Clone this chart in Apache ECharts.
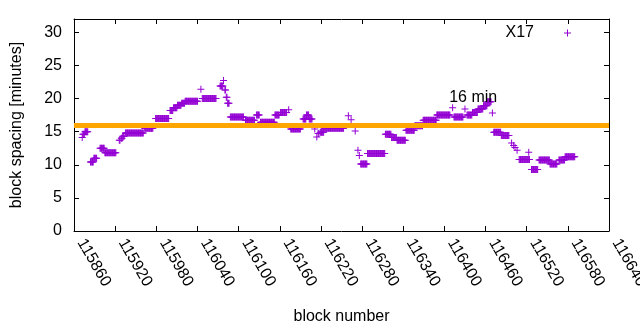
<!DOCTYPE html>
<html>
<head>
<meta charset="utf-8">
<script src="https://cdn.jsdelivr.net/npm/echarts@6/dist/echarts.min.js"></script>
<style>
  html, body { margin: 0; padding: 0; background: #fff; }
  #chart { width: 640px; height: 330px; }
</style>
</head>
<body>
<div id="chart"></div>
<script>
// runs of blocks that share the same spacing value
const runFrom = [
  115872, 115873, 115876, 115884, 115889, 115898, 115905, 115926, 115929, 115931,
  115935, 115963, 115979, 116000, 116005, 116011, 116017, 116022, 116045, 116047,
  116073, 116078, 116080, 116082, 116084, 116088, 116110, 116126, 116132, 116153,
  116161, 116173, 116176, 116194, 116199, 116203, 116211, 116214, 116216, 116219,
  116225, 116260, 116264, 116270, 116274, 116276, 116278, 116288, 116314, 116323,
  116331, 116344, 116357, 116369, 116389, 116412, 116414, 116430, 116433, 116441,
  116449, 116457, 116463, 116470, 116472, 116483, 116498, 116501, 116503, 116506,
  116509, 116523, 116527, 116538, 116554, 116567, 116576
];
const runTo = [
  115872, 115875, 115880, 115888, 115893, 115904, 115921, 115927, 115930, 115933,
  115961, 115975, 115998, 116004, 116010, 116016, 116021, 116040, 116045, 116067,
  116077, 116078, 116081, 116083, 116086, 116107, 116123, 116130, 116152, 116159,
  116170, 116173, 116190, 116198, 116202, 116207, 116211, 116214, 116217, 116224,
  116253, 116260, 116264, 116270, 116274, 116276, 116287, 116313, 116322, 116330,
  116343, 116356, 116368, 116388, 116408, 116412, 116427, 116430, 116440, 116448,
  116456, 116462, 116468, 116470, 116482, 116494, 116498, 116501, 116503, 116506,
  116524, 116523, 116536, 116553, 116564, 116575, 116590
];
const runMinutes = [
  14.1, 14.6, 15.0, 10.4, 11.0, 12.5, 11.8, 13.7, 14.0, 14.3,
  14.8, 15.5, 17.0, 18.2, 18.6, 19.0, 19.3, 19.6, 21.4, 20.0,
  21.9, 22.7, 21.3, 20.2, 19.3, 17.2, 16.7, 17.5, 16.4, 17.5,
  17.9, 18.3, 15.4, 16.9, 17.5, 16.9, 15.4, 14.2, 14.7, 14.9,
  15.5, 17.4, 16.8, 15.1, 12.2, 11.4, 10.1, 11.7, 14.6, 14.1,
  13.7, 15.2, 15.9, 16.7, 17.5, 18.6, 17.2, 18.4, 17.5, 17.9,
  18.4, 18.9, 19.5, 17.8, 14.9, 14.4, 13.3, 12.9, 12.6, 12.2,
  10.8, 11.9, 9.3, 10.7, 10.1, 10.7, 11.2
];

const blockRange = [115860, 116640];
const blockStep = 60;
const minutesRange = [0, 32];
const minutesStep = 5;
const targetMinutes = 16;
const targetText = '16 min';
const targetTextAt = [116407, 20.2];
const seriesName = 'X17';

const points = [];
runFrom.forEach((from, i) => {
  for (let b = from; b <= runTo[i]; b++) points.push([b, runMinutes[i]]);
});

const plus = 'path://M3,0h1v7h-1z M0,3h7v1h-7z';
const font = 'Liberation Sans, Arial, sans-serif';
const black = '#000';

const chart = echarts.init(document.getElementById('chart'), null, { renderer: 'canvas' });

const axisCommon = {
  type: 'value',
  axisLine: { show: true, onZero: false, lineStyle: { color: black, width: 1 } },
  axisTick: { show: true, inside: true, length: 5, lineStyle: { color: black } },
  splitLine: { show: false }
};

chart.setOption({
  animation: false,
  textStyle: { fontFamily: font },
  grid: { left: 74, right: 31, top: 19, bottom: 99, containLabel: false, outerBoundsMode: 'none' },
  legend: {
    data: [{ name: seriesName, icon: plus }],
    right: 69, top: 25,
    align: 'right',
    itemWidth: 7, itemHeight: 7,
    padding: 0,
    textStyle: { fontSize: 16, color: black, fontFamily: font, padding: [0, 25, 0, 0] }
  },
  xAxis: [
    Object.assign({}, axisCommon, {
      position: 'bottom',
      min: blockRange[0], max: blockRange[1], interval: blockStep,
      axisLabel: {
        rotate: -60, fontSize: 16, color: black, fontFamily: font,
        margin: 13, align: 'left', verticalAlign: 'bottom',
        formatter: v => String(v)
      },
      name: 'block number', nameLocation: 'middle', nameGap: 78,
      nameTextStyle: { fontSize: 16, color: black, fontFamily: font }
    }),
    Object.assign({}, axisCommon, {
      position: 'top',
      min: blockRange[0], max: blockRange[1], interval: blockStep,
      axisLabel: { show: false }
    })
  ],
  yAxis: [
    Object.assign({}, axisCommon, {
      position: 'left',
      min: minutesRange[0], max: minutesRange[1], interval: minutesStep,
      axisLabel: { fontSize: 16, color: black, fontFamily: font, margin: 12, showMaxLabel: false },
      name: 'block spacing [minutes]', nameLocation: 'middle', nameGap: 49,
      nameTextStyle: { fontSize: 16, color: black, fontFamily: font }
    }),
    Object.assign({}, axisCommon, {
      position: 'right',
      min: minutesRange[0], max: minutesRange[1], interval: minutesStep,
      axisLabel: { show: false }
    })
  ],
  series: [
    {
      name: seriesName,
      type: 'scatter',
      data: points,
      symbol: plus,
      symbolSize: 7,
      itemStyle: { color: '#9400D3', opacity: 1 },
      z: 2
    },
    {
      type: 'line',
      data: [],
      z: 5,
      markLine: {
        silent: true,
        symbol: 'none',
        label: { show: false },
        lineStyle: { color: '#FFA500', width: 5, type: 'solid' },
        data: [{ yAxis: targetMinutes }]
      },
      markPoint: {
        silent: true,
        symbol: 'circle',
        symbolSize: 0,
        label: {
          show: true, position: 'right', distance: 0,
          formatter: targetText, fontSize: 16, color: black, fontFamily: font
        },
        data: [{ coord: targetTextAt }]
      }
    }
  ]
});
</script>
</body>
</html>
